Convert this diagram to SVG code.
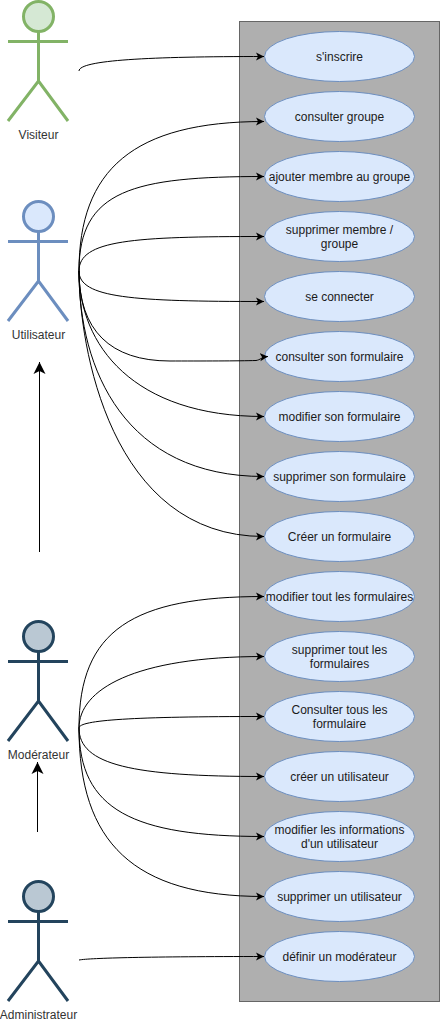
<svg xmlns="http://www.w3.org/2000/svg" width="441" height="1023" viewBox="0 0 441 1023">
<style>
text{font-family:"Liberation Sans",Arial,sans-serif;font-size:12px;text-anchor:middle}
.u text{fill:#1a1a1a}
.a text{fill:#333}
.u ellipse{fill:#dae8fc;stroke:#6c8ebf;stroke-width:1}
.a *{stroke-width:3}
.a text{stroke:none}
.a path{fill:none}
.g{stroke:#82b366}.g circle{fill:#d5e8d4}
.b{stroke:#6c8ebf}.b circle{fill:#dae8fc}
.d{stroke:#23445d}.d circle{fill:#bac8d3}
#edges path{fill:none;stroke:#000;stroke-width:1;marker-end:url(#arr)}
#edges path.up{marker-end:url(#big)}
</style>
<defs>
<marker id="arr" markerUnits="userSpaceOnUse" markerWidth="10" markerHeight="10" refX="8" refY="5" orient="auto"><path d="M0 1 L8 5 L0 9 L2 5Z" fill="#000"/></marker>
<marker id="big" markerUnits="userSpaceOnUse" markerWidth="14" markerHeight="14" refX="12" refY="7" orient="auto"><path d="M0 1 L12 7 L0 13 L3 7Z" fill="#000"/></marker>
</defs>
<rect id="system" x="239.5" y="21.5" width="200" height="980" fill="#afafaf" stroke="#666"/>
<g id="visiteur" class="a g"><circle cx="38.500" cy="16.500" r="15"/><path d="M38.500 31.500V81M8 41.500H68M8 121L38.500 81L68 121"/><text x="38.500" y="139">Visiteur</text></g>
<g id="utilisateur" class="a b"><circle cx="38.500" cy="216.500" r="15"/><path d="M38.500 231.500V281M8 241.500H68M8 321L38.500 281L68 321"/><text x="38.500" y="339">Utilisateur</text></g>
<g id="moderateur" class="a d"><circle cx="38.500" cy="636.500" r="15"/><path d="M38.500 651.500V701M8 661.500H68M8 741L38.500 701L68 741"/><text x="38.500" y="759">Modérateur</text></g>
<g id="administrateur" class="a d"><circle cx="38.500" cy="896.500" r="15"/><path d="M38.500 911.500V961M8 921.500H68M8 1001L38.500 961L68 1001"/><text x="38.500" y="1019">Administrateur</text></g>
<g id="u1" class="u"><ellipse cx="339.500" cy="56.500" rx="75" ry="25"/><text x="339.500" y="61">s'inscrire</text></g>
<g id="u2" class="u"><ellipse cx="339.500" cy="116.500" rx="75" ry="25"/><text x="339.500" y="121">consulter groupe</text></g>
<g id="u3" class="u"><ellipse cx="339.500" cy="176.500" rx="75" ry="25"/><text x="339.500" y="181">ajouter membre au groupe</text></g>
<g id="u4" class="u"><ellipse cx="339.500" cy="236.500" rx="75" ry="25"/><text x="339.500" y="234">supprimer membre /</text><text x="339.500" y="248">groupe</text></g>
<g id="u5" class="u"><ellipse cx="339.500" cy="296.500" rx="75" ry="25"/><text x="339.500" y="301">se connecter</text></g>
<g id="u6" class="u"><ellipse cx="339.500" cy="356.500" rx="75" ry="25"/><text x="339.500" y="361">consulter son formulaire</text></g>
<g id="u7" class="u"><ellipse cx="339.500" cy="416.500" rx="75" ry="25"/><text x="339.500" y="421">modifier son formulaire</text></g>
<g id="u8" class="u"><ellipse cx="339.500" cy="476.500" rx="75" ry="25"/><text x="339.500" y="481">supprimer son formulaire</text></g>
<g id="u9" class="u"><ellipse cx="339.500" cy="536.500" rx="75" ry="25"/><text x="339.500" y="541">Créer un formulaire</text></g>
<g id="u10" class="u"><ellipse cx="339.500" cy="596.500" rx="75" ry="25"/><text x="339.500" y="601">modifier tout les formulaires</text></g>
<g id="u11" class="u"><ellipse cx="339.500" cy="656.500" rx="75" ry="25"/><text x="339.500" y="654">supprimer tout les</text><text x="339.500" y="668">formulaires</text></g>
<g id="u12" class="u"><ellipse cx="339.500" cy="716.500" rx="75" ry="25"/><text x="339.500" y="714">Consulter tous les</text><text x="339.500" y="728">formulaire</text></g>
<g id="u13" class="u"><ellipse cx="339.500" cy="776.500" rx="75" ry="25"/><text x="339.500" y="781">créer un utilisateur</text></g>
<g id="u14" class="u"><ellipse cx="339.500" cy="836.500" rx="75" ry="25"/><text x="339.500" y="834">modifier les informations</text><text x="339.500" y="848">d'un utilisateur</text></g>
<g id="u15" class="u"><ellipse cx="339.500" cy="896.500" rx="75" ry="25"/><text x="339.500" y="901">supprimer un utilisateur</text></g>
<g id="u16" class="u"><ellipse cx="339.500" cy="956.500" rx="75" ry="25"/><text x="339.500" y="961">définir un modérateur</text></g>
<g id="edges">
<path d="M79 71C79 60 150 56.500 264 56.500"/>
<path d="M79 271C79 170 133 121.500 264 121.500"/>
<path d="M79 271C79 190 133 176.500 264 176.500"/>
<path d="M79 271C79 240 133 236.500 264 236.500"/>
<path d="M79 271C79 298 133 301.500 264 301.500"/>
<path d="M79 271C79 330 110 361 170 361C200 361 240 361 256 360.500C260 360 262 357 268 356.500"/>
<path d="M79 271C79 345 133 416.500 264 416.500"/>
<path d="M79 271C79 370 125 476.500 264 476.500"/>
<path d="M79 271C79 345 110 536.500 264 536.500"/>
<path d="M79 728C79 630 133 596.500 264 596.500"/>
<path d="M79 728C79 690 133 656.500 264 656.500"/>
<path d="M79 728C79 720 133 716.500 264 716.500"/>
<path d="M79 728C79 765 133 776.500 264 776.500"/>
<path d="M79 728C79 810 133 836.500 264 836.500"/>
<path d="M79 728C79 842 133 896.500 264 896.500"/>
<path d="M79 960C90 958 150 956.500 264 956.500"/>
<path class="up" d="M39.500 552V362"/>
<path class="up" d="M37.500 832V762"/>
</g>
</svg>
